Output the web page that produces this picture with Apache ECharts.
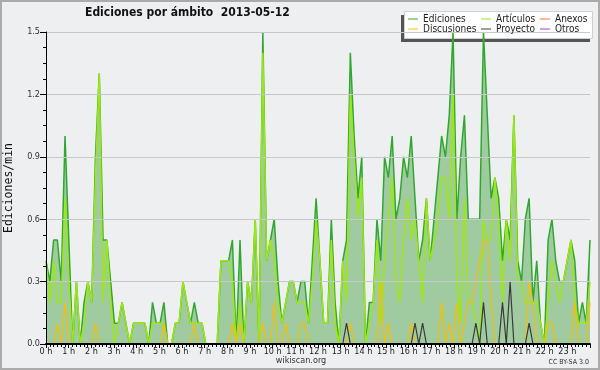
<!DOCTYPE html>
<html>
<head>
<meta charset="utf-8">
<script src="https://cdn.jsdelivr.net/npm/echarts@6/dist/echarts.min.js"></script>
<style>
html,body{margin:0;padding:0;background:#eeeff1;}
#c{width:600px;height:370px;}
</style>
</head>
<body>
<div id="c"></div>
<script>
// ---- data (edits per minute, 10-minute bins, 2013-05-12) ----
const hourLabels = ['0 h','1 h','2 h','3 h','4 h','5 h','6 h','7 h','8 h','9 h','10 h','11 h',
  '12 h','13 h','14 h','15 h','16 h','17 h','18 h','19 h','20 h','21 h','22 h','23 h'];

const times = [];
for (let h = 0; h < 24; h++) for (let m = 0; m < 60; m += 10)
  times.push(String(h).padStart(2,'0') + ':' + String(m).padStart(2,'0'));

const ediciones = [
  0.4,0.3,0.5,0.5,0.3,1.0, 0.5,0,0.3,0,0.2,0.3, 0.2,0.9,1.3,0.5,0.5,0.3, 0.1,0.1,0.2,0.1,0,0.1,
  0.1,0.1,0.1,0,0.2,0.1, 0.1,0.2,0,0,0.1,0.1, 0.3,0.2,0.1,0.2,0.1,0.1, 0,0,0,0,0.4,0.4,
  0.4,0.5,0,0.5,0,0.3, 0.2,0.6,0,1.5,0.4,0.5, 0.6,0.3,0.1,0.2,0.3,0.3, 0.2,0.3,0.3,0.1,0.4,0.7,
  0.4,0.1,0.1,0.6,0.2,0, 0.4,0.5,1.4,1.0,0.7,0.9, 0,0.2,0.2,0.6,0.4,0.9, 0.8,1.0,0.6,0.7,0.9,0.8,
  1.0,0.7,0.4,0.5,0.7,0.4, 0.6,0.8,1.0,0.9,1.1,1.5, 0.6,0.9,1.1,0.6,0.6,0.6, 0.6,1.5,1.1,0.7,0.8,0.7,
  0.4,0.6,0.5,1.1,0.4,0.3, 0.6,0.7,0.2,0.4,0.1,0, 0.5,0.6,0.4,0.3,0.3,0.4, 0.5,0.4,0.1,0.2,0.1,0.5
];
const articulos = [
  0.4,0.2,0.4,0.2,0.2,0.7, 0.3,0,0.3,0,0.1,0.3, 0.2,0.8,1.3,0.2,0.5,0.2, 0,0.1,0.2,0.1,0,0.1,
  0.1,0.1,0.1,0,0.1,0.1, 0.1,0.1,0,0,0.1,0.1, 0.3,0.2,0.1,0.1,0.1,0.1, 0,0,0,0,0.4,0.4,
  0.4,0.3,0,0.2,0,0.3, 0.2,0.6,0,1.4,0.4,0.5, 0.4,0.2,0.1,0.2,0.3,0.3, 0.2,0.2,0.2,0.1,0.3,0.6,
  0.4,0.1,0.1,0.5,0.1,0, 0.4,0.2,1.2,0.9,0.6,0.8, 0,0.1,0.2,0.5,0.1,0.4, 0.6,0.8,0.3,0.2,0.5,0.7,
  0.5,0.6,0.4,0.2,0.7,0.4, 0.5,0.6,0.8,0.8,0.6,1.2, 0.3,0.1,0.7,0.2,0.2,0.1, 0,0.6,0.5,0.5,0.8,0.6,
  0.2,0.6,0.4,1.1,0.3,0.3, 0.2,0.2,0.2,0.2,0.1,0, 0.2,0.4,0.3,0.2,0.3,0.4, 0.5,0.2,0.1,0.1,0.1,0.3
];
const anexos = [
  0,0,0,0,0,0, 0,0,0,0,0,0, 0,0,0,0,0,0, 0,0,0,0,0,0,
  0,0,0,0,0,0, 0,0,0,0,0,0, 0,0,0,0,0,0, 0,0,0,0,0,0,
  0,0,0,0,0,0, 0,0,0,0,0,0, 0,0,0,0,0,0, 0,0,0,0,0,0,
  0,0,0,0,0,0, 0,0,0,0,0,0, 0,0,0,0,0,0, 0,0,0,0,0,0,
  0,0,0,0,0,0, 0,0,0,0,0,0, 0,0,0,0,0,0, 0,0,0,0,0,0,
  0,0,0,0,0,0, 0,0,0,0,0,0, 0,0,0,0,0,0, 0,0,0,0,0,0
];
const discusiones = [
  0,0,0,0.1,0,0.2, 0,0,0,0,0,0, 0,0.1,0,0,0,0, 0,0,0,0,0,0,
  0,0,0,0,0,0, 0,0.1,0,0,0,0, 0,0,0,0.1,0,0, 0,0,0,0,0,0,
  0,0.1,0,0.1,0,0, 0,0,0,0.1,0,0, 0.2,0,0,0.1,0,0, 0,0.1,0.1,0,0,0,
  0,0,0,0,0,0, 0,0,0.1,0,0,0, 0,0,0,0,0.3,0, 0.1,0,0,0,0,0,
  0.1,0,0,0,0,0, 0,0,0.2,0,0.1,0, 0.2,0,0.1,0.2,0.2,0.3, 0.4,0.5,0.5,0.2,0,0,
  0,0,0,0,0,0, 0,0.3,0.2,0,0,0, 0.1,0.1,0,0,0,0, 0,0.2,0,0,0,0.2
];
const proyecto = [
  0,0,0,0,0,0, 0,0,0,0,0,0, 0,0,0,0,0,0, 0,0,0,0,0,0,
  0,0,0,0,0,0, 0,0,0,0,0,0, 0,0,0,0,0,0, 0,0,0,0,0,0,
  0,0,0,0,0,0, 0,0,0,0,0,0, 0,0,0,0,0,0, 0,0,0,0,0,0,
  0,0,0,0,0,0, 0,0.1,0,0,0,0, 0,0,0,0,0,0, 0,0,0,0,0,0,
  0,0.1,0,0.1,0,0, 0,0,0,0,0,0, 0,0,0,0,0,0.1, 0,0.2,0,0,0,0,
  0.2,0,0.3,0,0,0, 0,0.1,0,0,0,0, 0,0,0,0,0,0, 0,0,0,0,0,0
];
const otros = [
  0,0,0,0,0,0, 0,0,0,0,0,0, 0,0,0,0,0,0, 0,0,0,0,0,0,
  0,0,0,0,0,0, 0,0,0,0,0,0, 0,0,0,0,0,0, 0,0,0,0,0,0,
  0,0,0,0,0,0, 0,0,0,0,0,0, 0,0,0,0,0,0, 0,0,0,0,0,0,
  0,0,0,0,0,0, 0,0,0,0,0,0, 0,0,0,0,0,0, 0,0,0,0,0,0,
  0,0,0,0,0,0, 0,0,0,0,0,0, 0,0,0,0,0,0, 0,0,0,0,0,0,
  0,0,0,0,0,0, 0,0,0,0,0,0, 0,0,0,0,0,0, 0,0,0,0,0,0
];

// ---- chart ----
const FONT = "'DejaVu Sans Condensed', 'DejaVu Sans', sans-serif";
const C = {
  ed: '#30a830', edArea: '#a0cba0', art: '#9be812', anx: '#ff6a3d',
  dis: '#f5c000', pro: '#3a3a3a', otr: '#9944ee'
};

function line(name, data, color, width, extra) {
  return Object.assign({
    name, type: 'line', data, xAxisIndex: 0, yAxisIndex: 0,
    symbol: 'none', showSymbol: false, animation: false,
    lineStyle: { color, width }, itemStyle: { color }
  }, extra || {});
}

const legendBase = {
  orient: 'vertical', top: 14, itemGap: 0, itemWidth: 10, itemHeight: 1,
  icon: 'rect', padding: 0, selectedMode: false, z: 10,
  textStyle: { fontFamily: FONT, fontSize: 10, color: '#222', lineHeight: 10 }
};

const chart = echarts.init(document.getElementById('c'), null, { renderer: 'canvas' });
chart.setOption({
  backgroundColor: '#eeeff1',
  animation: false,
  title: {
    text: 'Ediciones por ámbito  2013-05-12',
    left: 85, top: 7, padding: 0,
    textStyle: { fontFamily: FONT, fontWeight: 'bold', fontSize: 12, color: '#111' }
  },
  grid: { left: 46, top: 32, width: 544, height: 312, containLabel: false, outerBoundsMode: 'none' },
  legend: [
    Object.assign({}, legendBase, { left: 408, data: ['Ediciones', 'Discusiones'] }),
    Object.assign({}, legendBase, { left: 481, data: ['Artículos', 'Proyecto'] }),
    Object.assign({}, legendBase, { left: 540, data: ['Anexos', 'Otros'] })
  ],
  graphic: [
    { type: 'rect', z: 1, shape: { x: 401, y: 15, width: 189, height: 27 }, style: { fill: '#555' } },
    { type: 'rect', z: 2, shape: { x: 404.5, y: 11.5, width: 188, height: 27 }, style: { fill: '#fff', stroke: '#d0d0d0', lineWidth: 1 } },
    { type: 'text', z: 3, style: { text: 'wikiscan.org', x: 301, y: 361, textAlign: 'center', textVerticalAlign: 'middle', verticalAlign: 'middle', font: "9px 'DejaVu Sans Condensed', 'DejaVu Sans', sans-serif", fill: '#333' } },
    { type: 'text', z: 3, style: { text: 'CC BY-SA 3.0', x: 589, y: 362, textAlign: 'right', textVerticalAlign: 'middle', verticalAlign: 'middle', font: "7px 'DejaVu Sans Condensed', 'DejaVu Sans', sans-serif", fill: '#333' } },
    { type: 'rect', z: 3, shape: { x: 1, y: 1, width: 598, height: 368 }, style: { fill: 'none', stroke: '#ababab', lineWidth: 2 } }
  ],
  xAxis: [
    { type: 'category', data: times, boundaryGap: false, position: 'top', show: false },
    {
      type: 'value', min: 0, max: 24, interval: 1, position: 'bottom', z: 5,
      axisLine: { show: true, onZero: false, lineStyle: { color: '#000', width: 2 } },
      axisTick: { show: true, length: 4, lineStyle: { color: '#000' } },
      minorTick: { show: true, splitNumber: 6, length: 3, lineStyle: { color: '#000' } },
      splitLine: { show: false },
      axisLabel: {
        formatter: v => (hourLabels[v] !== undefined ? hourLabels[v] : ''),
        showMaxLabel: false, margin: 3, fontFamily: FONT, fontSize: 9, color: '#222'
      }
    }
  ],
  yAxis: {
    type: 'value', min: 0, max: 1.5, interval: 0.3, z: 5,
    name: 'Ediciones/min', nameLocation: 'middle', nameGap: 31, nameRotate: 90,
    nameTextStyle: { fontFamily: "'DejaVu Sans Mono', monospace", fontSize: 11.5, color: '#111' },
    axisLine: { show: true, lineStyle: { color: '#000', width: 1 } },
    axisTick: { show: true, length: 6, lineStyle: { color: '#000' } },
    minorTick: { show: true, splitNumber: 4, length: 3, lineStyle: { color: '#000' } },
    splitLine: { show: true, lineStyle: { color: '#c8c8c8', width: 1 } },
    axisLabel: { formatter: v => v.toFixed(1), margin: 6, fontFamily: FONT, fontSize: 9, color: '#333' }
  },
  series: [
    line('Ediciones', ediciones, C.ed, 1.5, { areaStyle: { color: C.edArea, opacity: 1 }, z: 2 }),
    line('Artículos', articulos, C.art, 1.5, { z: 3 }),
    line('Anexos', anexos, C.anx, 1.2, { z: 3 }),
    line('Discusiones', discusiones, C.dis, 1.2, { z: 4 }),
    line('Proyecto', proyecto, C.pro, 1.2, { z: 4 }),
    line('Otros', otros, C.otr, 1.2, { z: 4 })
  ]
});
</script>
</body>
</html>
